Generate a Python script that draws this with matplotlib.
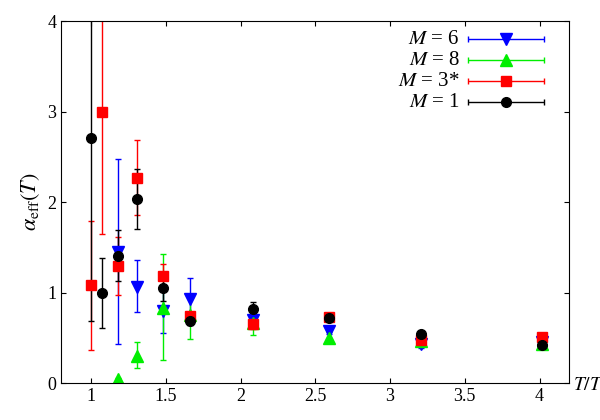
import matplotlib
matplotlib.use("Agg")
import matplotlib.pyplot as plt
import numpy as np

plt.rcParams['font.family'] = ['Liberation Serif', 'DejaVu Serif']
plt.rcParams['mathtext.fontset'] = 'stix'

x_m1 = [1.00, 1.07, 1.18, 1.31, 1.48, 1.66, 2.08, 2.59, 3.21, 4.02]
y_m1 = [2.71, 0.99, 1.40, 2.03, 1.05, 0.68, 0.82, 0.72, 0.54, 0.42]
lo_m1 = [0.69, 0.61, 1.13, 1.70, 0.91, 0.64, 0.75, 0.68, 0.51, 0.40]
hi_m1 = [4.5, 1.38, 1.69, 2.36, 1.18, 0.72, 0.89, 0.76, 0.57, 0.44]

x_m3 = [1.00, 1.07, 1.18, 1.31, 1.48, 1.66, 2.08, 2.59, 3.21, 4.02]
y_m3 = [1.08, 3.00, 1.29, 2.27, 1.18, 0.74, 0.65, 0.73, 0.48, 0.51]
lo_m3 = [0.37, 1.65, 0.97, 1.86, 1.05, 0.69, 0.60, 0.70, 0.45, 0.49]
hi_m3 = [1.79, 4.5, 1.61, 2.68, 1.32, 0.79, 0.70, 0.76, 0.51, 0.53]

x_m6 = [1.18, 1.31, 1.48, 1.66, 2.08, 2.59, 3.21, 4.02]
y_m6 = [1.45, 1.06, 0.80, 0.93, 0.70, 0.58, 0.43, 0.45]
lo_m6 = [0.43, 0.79, 0.55, 0.72, 0.66, 0.54, 0.39, 0.43]
hi_m6 = [2.47, 1.36, 1.05, 1.16, 0.74, 0.62, 0.47, 0.47]

x_m8 = [1.18, 1.31, 1.48, 1.66, 2.08, 2.59, 3.21, 4.02]
y_m8 = [0.04, 0.30, 0.83, 0.75, 0.66, 0.50, 0.47, 0.43]
lo_m8 = [0.02, 0.17, 0.25, 0.49, 0.53, 0.45, 0.44, 0.41]
hi_m8 = [0.06, 0.45, 1.43, 0.95, 0.77, 0.56, 0.50, 0.45]

labels = [r'$M$ = 6', r'$M$ = 8', r'$M$ = 3*', r'$M$ = 1']
colors = ['#0000ff', '#00ee00', '#ff0000', '#000000']
markers = ['v', '^', 's', 'o']
sizes = [8, 8, 7, 7]

fig = plt.figure(figsize=(6, 4.2), dpi=100)
ax = fig.add_axes([0.102, 0.088, 0.847, 0.862])

series = [(x_m6, y_m6, lo_m6, hi_m6), (x_m8, y_m8, lo_m8, hi_m8),
          (x_m3, y_m3, lo_m3, hi_m3), (x_m1, y_m1, lo_m1, hi_m1)]
tr = ax.transAxes
for i, ((x, y, lo, hi), c, m, ms, lab) in enumerate(zip(series, colors, markers, sizes, labels)):
    y = np.array(y)
    err = [y - np.array(lo), np.array(hi) - y]
    ax.errorbar(x, y, yerr=err, fmt=m, color=c, ecolor=c, ms=ms,
                capsize=2.5, elinewidth=1, capthick=1)
    # legend entry (gnuplot style: horizontal bar with caps)
    yy = 0.95 - i * 0.058
    ax.errorbar([0.875], [yy], xerr=[[0.075], [0.075]], fmt=m, color=c, ecolor=c,
                ms=ms, capsize=2.5, elinewidth=1, capthick=1, transform=tr, clip_on=False)
    ax.text(0.785, yy, lab, transform=tr, ha='right', va='center', fontsize=15)

ax.set_xlim(0.8, 4.2)
ax.set_ylim(0, 4)
ax.set_xticks([1, 1.5, 2, 2.5, 3, 3.5, 4])
ax.set_xticklabels(['1', '1.5', '2', '2.5', '3', '3.5', '4'])
ax.set_yticks([0, 1, 2, 3, 4])
ax.tick_params(direction='in', top=True, right=True, labelsize=13)
ax.set_ylabel(r'$\alpha_{\rm eff}(T)$', fontsize=16)
ax.text(1.008, -0.005, r'$T/T_c$', transform=tr, fontsize=14, va='center', ha='left')
fig.savefig('out.png')
